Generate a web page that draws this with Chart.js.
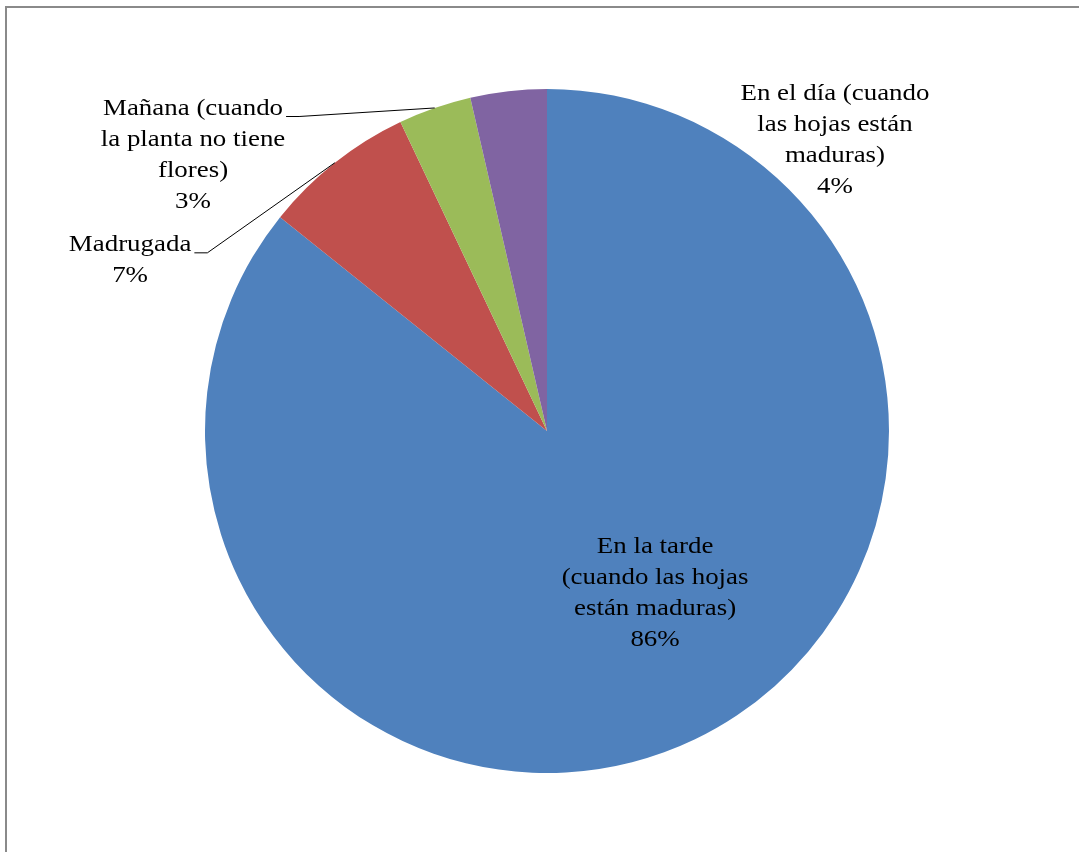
<!DOCTYPE html>
<html>
<head>
    <meta charset="utf-8">
    <title>Momento de cosecha</title>
    <script src="https://cdn.jsdelivr.net/npm/chart.js"></script>
    <style>
        html, body {
            margin: 0;
            padding: 0;
            background: #ffffff;
        }
        .frame {
            position: absolute;
            left: 5px;
            top: 6px;
            width: 1100px;
            height: 900px;
            border-left: 2px solid #8a8a8a;
            border-top: 2px solid #8a8a8a;
        }
        .chart-box {
            position: absolute;
            left: 0;
            top: 0;
            width: 1079px;
            height: 852px;
        }
    </style>
</head>
<body>
    <div class="frame"></div>
    <div class="chart-box">
        <canvas id="pieChart"></canvas>
    </div>

    <script>
        // datos del gráfico
        const categorias = [
            ['En la tarde', '(cuando las hojas', 'están maduras)'],
            ['Madrugada'],
            ['Mañana (cuando', 'la planta no tiene', 'flores)'],
            ['En el día (cuando', 'las hojas están', 'maduras)']
        ];
        const valores = [85.75, 7.2, 3.45, 3.6];
        const porcentajes = ['86%', '7%', '3%', '4%'];
        const colores = ['#4F81BD', '#C0504D', '#9BBB59', '#8064A2'];

        // posición de cada etiqueta respecto al centro, en radios
        const posEtiquetas = [
            { dx: 0.316, dy: 0.474, guia: false },
            { dx: -1.219, dy: -0.499, guia: true },
            { dx: -1.035, dy: -0.807, guia: true },
            { dx: 0.842, dy: -0.849, guia: false }
        ];

        const fuente = '23px "Liberation Serif", "Times New Roman", serif';
        const estiroX = 1.17;   // el texto original es algo más ancho
        const altoLinea = 31;

        const etiquetasPlugin = {
            id: 'etiquetas',
            afterDatasetsDraw(chart) {
                const ctx = chart.ctx;
                const arcos = chart.getDatasetMeta(0).data;
                ctx.save();
                ctx.font = fuente;
                ctx.textAlign = 'center';
                ctx.textBaseline = 'middle';
                arcos.forEach((arco, i) => {
                    const r = arco.outerRadius;
                    const cx = arco.x + posEtiquetas[i].dx * r;
                    const cy = arco.y + posEtiquetas[i].dy * r;
                    const lineas = categorias[i].concat([porcentajes[i]]);
                    const y0 = cy - (lineas.length - 1) * altoLinea / 2;

                    if (posEtiquetas[i].guia) {
                        // línea guía desde la etiqueta hasta el borde del sector
                        const ancho = ctx.measureText(lineas[0]).width * estiroX;
                        const medio = (arco.startAngle + arco.endAngle) / 2;
                        const px = arco.x + r * Math.cos(medio);
                        const py = arco.y + r * Math.sin(medio);
                        const sx = cx + ancho / 2 + 3;
                        const sy = y0 + 8;
                        ctx.strokeStyle = '#000000';
                        ctx.lineWidth = 1;
                        ctx.beginPath();
                        ctx.moveTo(sx, sy);
                        ctx.lineTo(sx + 13, sy);
                        ctx.lineTo(px, py);
                        ctx.stroke();
                    }

                    ctx.fillStyle = '#000000';
                    lineas.forEach((t, k) => {
                        ctx.save();
                        ctx.translate(cx, y0 + k * altoLinea);
                        ctx.scale(estiroX, 1);
                        ctx.fillText(t, 0, 0);
                        ctx.restore();
                    });
                });
                ctx.restore();
            }
        };

        const ctx = document.getElementById('pieChart').getContext('2d');
        new Chart(ctx, {
            type: 'pie',
            data: {
                labels: categorias.map(c => c.join(' ')),
                datasets: [{
                    data: valores,
                    backgroundColor: colores,
                    borderWidth: 0
                }]
            },
            options: {
                responsive: true,
                maintainAspectRatio: false,
                animation: false,
                layout: {
                    padding: { left: 205, right: 190, top: 89, bottom: 79 }
                },
                plugins: {
                    legend: { display: false },
                    tooltip: { enabled: false }
                }
            },
            plugins: [etiquetasPlugin]
        });
    </script>
</body>
</html>
